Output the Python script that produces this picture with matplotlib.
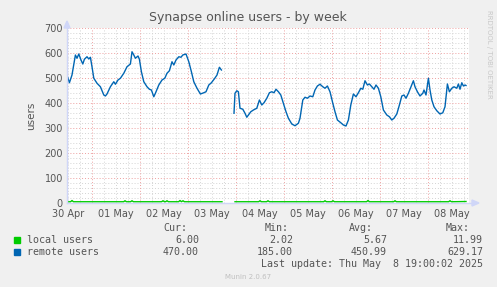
import numpy as np
import matplotlib
matplotlib.use("Agg")
import matplotlib.pyplot as plt
from matplotlib.patches import Polygon

# ---- data (hours since 30 Apr 00:00) ----
remote_hours_a = [11.5, 12.7, 14.0, 15.7, 16.5, 17.4, 18.5, 19.4, 20.2, 21.5,
                  22.4, 23.2, 24.0, 24.9, 26.5, 28.2, 29.9, 30.7, 31.5, 33.2,
                  34.9, 35.7, 37.0, 38.2, 39.9, 41.5, 43.2, 44.0, 44.9, 45.7,
                  47.0, 47.7, 48.7, 49.9, 51.5, 52.7, 53.7, 54.9, 55.7, 57.4,
                  59.0, 60.4, 61.5, 62.7, 64.0, 64.9, 66.0, 67.4, 68.5, 69.4,
                  71.0, 72.4, 73.7, 74.9, 76.5, 78.2, 79.9, 81.0, 82.4, 83.7,
                  85.4, 86.5, 87.7, 88.7]
remote_vals_a = [512, 481, 512, 592, 579, 596, 572, 556, 575, 585,
                 576, 583, 545, 499, 479, 465, 432, 428, 436, 465,
                 485, 475, 492, 499, 519, 545, 556, 605, 592, 579,
                 588, 575, 525, 485, 465, 455, 452, 425, 439, 472,
                 492, 499, 519, 529, 565, 552, 572, 585, 583, 592,
                 596, 565, 525, 485, 459, 436, 441, 445, 472, 481,
                 499, 512, 543, 532]
remote_hours_b = [95.0, 95.5, 96.4, 97.2, 98.0, 99.4, 100.5, 101.4, 102.2, 103.4,
                  104.7, 106.4, 107.7, 108.9, 110.0, 111.4, 112.7, 113.9, 115.0, 116.0,
                  117.2, 118.4, 119.7, 121.0, 122.2, 123.9, 125.5, 127.2, 128.0, 129.4,
                  130.5, 131.7, 133.0, 134.4, 135.5, 136.7, 138.0, 139.4, 140.5, 141.7,
                  143.0, 144.4, 145.5, 146.7, 148.4, 149.7, 151.0, 152.2, 153.4, 154.7,
                  156.0, 157.2, 158.4, 159.4, 160.5, 161.7, 162.7, 163.9, 165.0, 166.0,
                  167.2, 168.4, 169.7, 171.4, 172.7, 173.9, 175.0, 176.4, 177.7, 178.9,
                  180.0, 181.0, 182.2, 183.4, 184.7, 185.5, 186.7, 188.0, 189.4, 190.0,
                  191.0, 192.2, 193.0, 193.9, 195.0, 196.4, 198.0, 199.4, 200.5, 201.7,
                  202.7, 203.9, 205.0, 206.4, 207.2, 208.0, 208.9, 209.7, 210.5, 211.0]
remote_vals_b = [359, 439, 449, 445, 379, 375, 359, 343, 352, 365,
                 372, 379, 412, 392, 401, 419, 441, 445, 441, 455,
                 445, 432, 399, 365, 339, 316, 309, 319, 339, 412,
                 423, 419, 428, 425, 452, 468, 475, 465, 459, 468,
                 445, 399, 365, 332, 321, 312, 308, 332, 392, 436,
                 425, 441, 459, 455, 489, 472, 476, 465, 455, 472,
                 459, 425, 372, 352, 345, 332, 339, 356, 392, 428,
                 432, 419, 439, 463, 489, 465, 445, 428, 439, 452,
                 432, 499, 452, 412, 385, 369, 356, 361, 385, 476,
                 445, 459, 465, 459, 476, 455, 481, 468, 472, 470]

local_hours = [11.5, 13.3, 14.0, 14.7, 39.8, 40.5, 41.2, 43.3, 44.0, 44.7,
               58.8, 59.5, 60.2, 60.8, 61.5, 62.2, 67.3, 68.0, 68.7, 69.5,
               70.2, 89.0, np.nan, 95.5, 107.3, 108.0, 108.7, 111.3, 112.0, 112.7,
               139.8, 140.5, 141.2, 143.8, 144.5, 145.2, 161.3, 162.0, 162.7, 174.8,
               175.5, 176.2, 202.3, 203.0, 203.7, 211.0]
local_vals = [5, 5, 10, 5, 5, 9, 5, 5, 9, 5,
              5, 9, 5, 5, 9, 5, 5, 10, 5, 9,
              5, 5, np.nan, 5, 5, 9, 5, 5, 9, 5,
              5, 9, 5, 5, 9, 5, 5, 10, 5, 5,
              9, 5, 5, 9, 5, 6]

day_labels = ["30 Apr", "01 May", "02 May", "03 May", "04 May",
              "05 May", "06 May", "07 May", "08 May"]
y_ticks = [0, 100, 200, 300, 400, 500, 600, 700]

legend_names = ["local users", "remote users"]
legend_colors = ["#00CC00", "#0066B3"]
stat_cur = ["6.00", "470.00"]
stat_min = ["2.02", "185.00"]
stat_avg = ["5.67", "450.99"]
stat_max = ["11.99", "629.17"]

# ---- figure ----
W, H = 497, 287
fig = plt.figure(figsize=(W / 100, H / 100), dpi=100, facecolor="#F0F0F0")

def fx(x):
    return x / W

def fy(y):
    return 1 - y / H

L, R, T, B = 67, 469, 28, 203
ax = fig.add_axes([fx(L), fy(B), (R - L) / W, (B - T) / H])
ax.set_facecolor("white")
x0, x1 = 11.5, 212.5
ax.set_xlim(x0, x1)
ax.set_ylim(0, 700)

# grid
for h in np.arange(12, x1, 6):
    if h % 24 != 0:
        ax.axvline(h, color="#d4d4d4", lw=0.7, ls=(0, (1, 2)), zorder=1)
for v in np.arange(20, 701, 20):
    if v % 100 != 0:
        ax.axhline(v, color="#d4d4d4", lw=0.7, ls=(0, (1, 2)), zorder=1)
for h in np.arange(24, x1, 24):
    ax.axvline(h, color="#eea0a0", lw=0.7, ls=(0, (1, 2)), zorder=2)
for v in y_ticks[1:]:
    ax.axhline(v, color="#eea0a0", lw=0.7, ls=(0, (1, 2)), zorder=2)

remote_h = remote_hours_a + [np.nan] + remote_hours_b
remote_v = remote_vals_a + [np.nan] + remote_vals_b
ax.plot(local_hours, local_vals, color=legend_colors[0], lw=1.0, zorder=4)
ax.plot(remote_h, remote_v, color=legend_colors[1], lw=1.0, zorder=4)

for s in ax.spines.values():
    s.set_visible(False)

ax.set_yticks(y_ticks)
ax.set_yticklabels([str(v) for v in y_ticks])
ax.set_xticks([12 + 24 * i for i in range(len(day_labels))])
ax.set_xticklabels(day_labels)
ax.tick_params(axis="y", length=0, labelsize=7, colors="#555555", pad=3)
ax.tick_params(axis="x", length=0, labelsize=7, colors="#555555", pad=4.5)
ax.set_ylabel("users", fontsize=7.5, color="#555555", labelpad=6)

# axes lines + arrows
axc = "#CFD6F8"
fig.add_artist(plt.Line2D([fx(L), fx(L)], [fy(B), fy(24)], color=axc, lw=1,
                          transform=fig.transFigure))
fig.add_artist(plt.Line2D([fx(L), fx(473)], [fy(B), fy(B)], color=axc, lw=1,
                          transform=fig.transFigure))
fig.add_artist(Polygon([[fx(64), fy(28)], [fx(70), fy(28)], [fx(67), fy(21)]],
                       closed=True, color=axc, transform=fig.transFigure))
fig.add_artist(Polygon([[fx(472), fy(200)], [fx(472), fy(206)], [fx(479), fy(203)]],
                       closed=True, color=axc, transform=fig.transFigure))

# title and side text
fig.text(fx(248), fy(17), "Synapse online users - by week", ha="center", va="center",
         fontsize=9, color="#555555")
fig.text(fx(489), fy(54), "RRDTOOL / TOBI OETIKER", ha="center", va="center",
         rotation=270, fontsize=5, color="#c8c8c8")

# legend
mono = dict(family="DejaVu Sans Mono", fontsize=7.2, color="#555555", va="center")
fig.text(fx(187), fy(228), "Cur:", ha="right", **mono)
fig.text(fx(289), fy(228), "Min:", ha="right", **mono)
fig.text(fx(373), fy(228), "Avg:", ha="right", **mono)
fig.text(fx(470), fy(228), "Max:", ha="right", **mono)
for i, yy in enumerate([240, 252]):
    fig.add_artist(Polygon([[fx(14), fy(yy - 3)], [fx(20), fy(yy - 3)],
                            [fx(20), fy(yy + 3)], [fx(14), fy(yy + 3)]],
                           closed=True, color=legend_colors[i], transform=fig.transFigure))
    fig.text(fx(27), fy(yy), legend_names[i], ha="left", **mono)
    fig.text(fx(199), fy(yy), stat_cur[i], ha="right", **mono)
    fig.text(fx(293), fy(yy), stat_min[i], ha="right", **mono)
    fig.text(fx(387), fy(yy), stat_avg[i], ha="right", **mono)
    fig.text(fx(483), fy(yy), stat_max[i], ha="right", **mono)
fig.text(fx(483), fy(264), "Last update: Thu May  8 19:00:02 2025", ha="right", **mono)
fig.text(fx(248), fy(277), "Munin 2.0.67", ha="center", va="center",
         fontsize=5, color="#c0c0c0")

fig.savefig("out.png", dpi=100, facecolor=fig.get_facecolor())
